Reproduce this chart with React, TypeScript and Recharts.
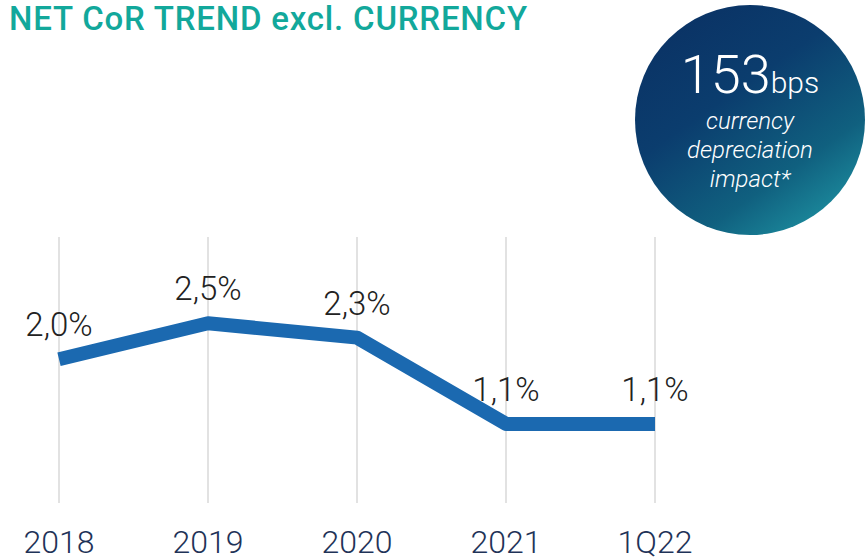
import React from "react";
import { LineChart, Line, XAxis, YAxis, CartesianGrid, LabelList } from "recharts";

const categories = ["2018", "2019", "2020", "2021", "1Q22"];
const cor = [2.0, 2.5, 2.3, 1.1, 1.1];
const corLabels = ["2,0%", "2,5%", "2,3%", "1,1%", "1,1%"];

const data = categories.map((c, i) => ({ cat: c, value: cor[i], label: corLabels[i] }));

const FONT = "Roboto, 'Open Sans', sans-serif";

const Tick = (props: any) => {
  const { x, y, payload } = props;
  return (
    <text x={x} y={y + 42} textAnchor="middle" fill="#1f3358" fontSize={32} fontWeight={300} fontFamily={FONT}>
      {payload.value}
    </text>
  );
};

const Lbl = (props: any) => {
  const { x, y, value } = props;
  return (
    <text x={x} y={y - 23} textAnchor="middle" fill="#222" fontSize={33} fontWeight={300} fontFamily={FONT}>
      {value}
    </text>
  );
};

export default function App() {
  return (
    <div style={{ position: "absolute", left: 0, top: 0, width: 865, height: 560, background: "#fff", fontFamily: FONT, overflow: "hidden" }}>
      <div style={{ position: "absolute", left: 9, top: 0, fontSize: 33, fontWeight: 500, color: "#12a89b", whiteSpace: "nowrap", lineHeight: "38px", letterSpacing: "0.8px" }}>
        NET CoR TREND excl. CURRENCY
      </div>
      <div style={{ position: "absolute", left: 0, top: 0 }}>
        <LineChart width={865} height={560} data={data} margin={{ top: 237, right: 210, bottom: 0, left: 59 }}>
          <CartesianGrid vertical horizontal={false} stroke="#d9d9d9" strokeWidth={1.5} />
          <XAxis dataKey="cat" axisLine={false} tickLine={false} height={57} tick={<Tick />} interval={0} />
          <YAxis hide domain={[0, 3.7]} />
          <Line dataKey="value" stroke="#1b69b0" strokeWidth={14} dot={false} isAnimationActive={false} strokeLinejoin="round" strokeLinecap="butt">
            <LabelList dataKey="label" content={<Lbl />} />
          </Line>
        </LineChart>
      </div>
      <div style={{ position: "absolute", left: 635, top: 5, width: 230, height: 230, borderRadius: "50%", background: "linear-gradient(145deg, #0a2f62 0%, #0b3d6e 40%, #10607f 70%, #22a2ad 100%)", color: "#fff", textAlign: "center" }}>
        <div style={{ position: "absolute", top: 42, width: "100%", lineHeight: "56px" }}>
          <span style={{ fontSize: 54, fontWeight: 300 }}>153</span>
          <span style={{ fontSize: 30, fontWeight: 300 }}>bps</span>
        </div>
        <div style={{ position: "absolute", top: 102, width: "100%", fontSize: 24, fontStyle: "italic", fontWeight: 300, lineHeight: "29px" }}>
          currency<br />depreciation<br />impact*
        </div>
      </div>
    </div>
  );
}
